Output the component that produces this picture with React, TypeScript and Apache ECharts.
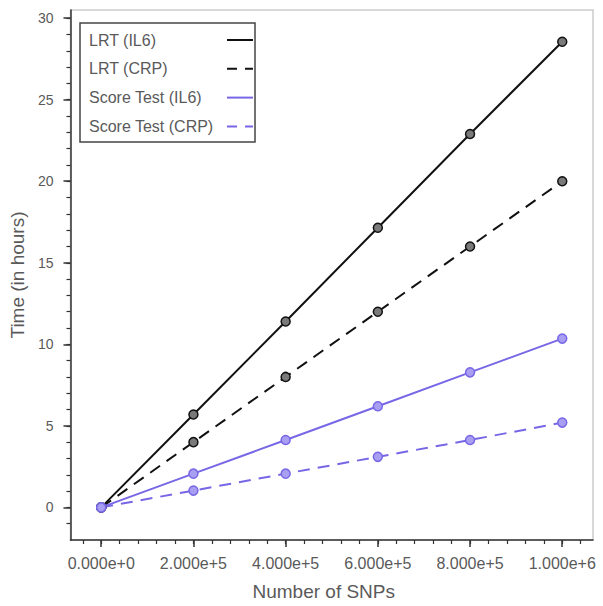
import React, { useEffect, useRef } from "react";
import * as echarts from "echarts";

const snps = [0, 200000, 400000, 600000, 800000, 1000000];
const lrtIL6 = [0, 5.7, 11.4, 17.15, 22.9, 28.55];
const lrtCRP = [0, 4.0, 8.0, 12.0, 16.0, 20.0];
const scoreIL6 = [0, 2.07, 4.13, 6.2, 8.28, 10.35];
const scoreCRP = [0, 1.03, 2.07, 3.1, 4.13, 5.2];
const seriesNames = ["LRT (IL6)", "LRT (CRP)", "Score Test (IL6)", "Score Test (CRP)"];
const xMajorTicks = [0, 200000, 400000, 600000, 800000, 1000000];
const yMajorTicks = [0, 5, 10, 15, 20, 25, 30];

const BLACK = "#111111";
const PURPLE = "#7767e6";
const FONT = "Liberation Sans";
const TEXT = "#5a5a5a";

const xMin = -66700;
const xMax = 1066700;
const yMin = -2;
const yMax = 30.5;

const xMinor: number[] = [];
for (let v = -40000; v <= xMax; v += 40000) xMinor.push(v);
const yMinor: number[] = [];
for (let v = -1; v <= 30; v += 1) yMinor.push(v);

function sci(v: number): string {
  if (v === 0) return "0.000e+0";
  const e = Math.floor(Math.log10(Math.abs(v)) + 1e-9);
  const m = v / Math.pow(10, e);
  return `${m.toFixed(3)}e+${e}`;
}

function pts(ys: number[]) {
  return snps.map((x, i) => [x, ys[i]]);
}

export default function App() {
  const ref = useRef<HTMLDivElement>(null);
  useEffect(() => {
    if (!ref.current) return;
    const chart = echarts.init(ref.current, null, { renderer: "svg" });
    const lineSeries = (name: string, data: number[], color: string, fill: string, dashed: boolean) => ({
      name,
      type: "line",
      xAxisIndex: 0,
      yAxisIndex: 0,
      data: pts(data),
      symbol: "circle",
      symbolSize: 9,
      lineStyle: { color, width: 2, type: dashed ? [12, 8] : "solid" },
      itemStyle: { color: fill, borderColor: color, borderWidth: 1.5 },
      z: 3,
    });
    const legendX = 80;
    const legendY = 23;
    const rowH = 28.8;
    const legendItems: any[] = [
      {
        type: "rect",
        shape: { x: legendX, y: legendY, width: 175, height: 119 },
        style: { fill: "#fff", stroke: "#444", lineWidth: 1.5 },
        z: 10,
      },
    ];
    const colors = [BLACK, BLACK, PURPLE, PURPLE];
    seriesNames.forEach((n, i) => {
      const cy = legendY + 17 + i * rowH;
      legendItems.push({
        type: "text",
        x: legendX + 9,
        y: cy,
        style: { text: n, fill: TEXT, font: `16px "${FONT}"`, verticalAlign: "middle", textAlign: "left" },
        z: 11,
      });
      legendItems.push({
        type: "line",
        shape: { x1: legendX + 147, y1: cy, x2: legendX + 173, y2: cy },
        style: { stroke: colors[i], lineWidth: 2, lineDash: i % 2 === 1 ? [10, 8] : null },
        z: 11,
      });
    });

    const minorX = {
      type: "value",
      min: xMin,
      max: xMax,
      position: "bottom",
      axisLine: { show: false, onZero: false },
      axisTick: { show: true, customValues: xMinor, length: 4, lineStyle: { color: "#333", width: 1.2 } },
      axisLabel: { show: false },
      splitLine: { show: false },
    };
    const minorY = {
      type: "value",
      min: yMin,
      max: yMax,
      position: "left",
      axisLine: { show: false, onZero: false },
      axisTick: { show: true, customValues: yMinor, length: 4, lineStyle: { color: "#333", width: 1.2 } },
      axisLabel: { show: false },
      splitLine: { show: false },
    };

    chart.setOption({
      animation: false,
      backgroundColor: "#fff",
      grid: { left: 67, right: 10, top: 10, bottom: 66, show: true, borderColor: "#cccccc", borderWidth: 1.5 },
      xAxis: [
        {
          type: "value",
          min: xMin,
          max: xMax,
          position: "bottom",
          name: "Number of SNPs",
          nameLocation: "middle",
          nameGap: 42,
          nameTextStyle: { fontFamily: FONT, fontSize: 19, color: TEXT, padding: [0, 16, 0, 0] },
          axisLine: { show: true, onZero: false, lineStyle: { color: "#333", width: 1.5 } },
          axisTick: { show: true, customValues: xMajorTicks, length: 7, lineStyle: { color: "#333", width: 1.5 } },
          axisLabel: {
            customValues: xMajorTicks,
            formatter: (v: number) => sci(v),
            fontFamily: FONT,
            fontSize: 16,
            color: TEXT,
            margin: 15,
          },
          splitLine: { show: false },
        },
        minorX,
      ],
      yAxis: [
        {
          type: "value",
          min: yMin,
          max: yMax,
          position: "left",
          name: "Time (in hours)",
          nameLocation: "middle",
          nameGap: 34,
          nameTextStyle: { fontFamily: FONT, fontSize: 19, color: TEXT },
          axisLine: { show: true, onZero: false, lineStyle: { color: "#333", width: 1.5 } },
          axisTick: { show: true, customValues: yMajorTicks, length: 7, lineStyle: { color: "#333", width: 1.5 } },
          axisLabel: {
            customValues: yMajorTicks,
            fontFamily: FONT,
            fontSize: 14,
            color: TEXT,
            margin: 17,
          },
          splitLine: { show: false },
        },
        minorY,
      ],
      series: [
        lineSeries(seriesNames[0], lrtIL6, BLACK, "#7a7a7a", false),
        lineSeries(seriesNames[1], lrtCRP, BLACK, "#7a7a7a", true),
        lineSeries(seriesNames[2], scoreIL6, PURPLE, "#a99ff2", false),
        lineSeries(seriesNames[3], scoreCRP, PURPLE, "#a99ff2", true),
      ],
      graphic: legendItems,
    });
    return () => chart.dispose();
  }, []);
  return <div ref={ref} style={{ position: "fixed", left: 0, top: 0, width: 603, height: 606 }} />;
}
